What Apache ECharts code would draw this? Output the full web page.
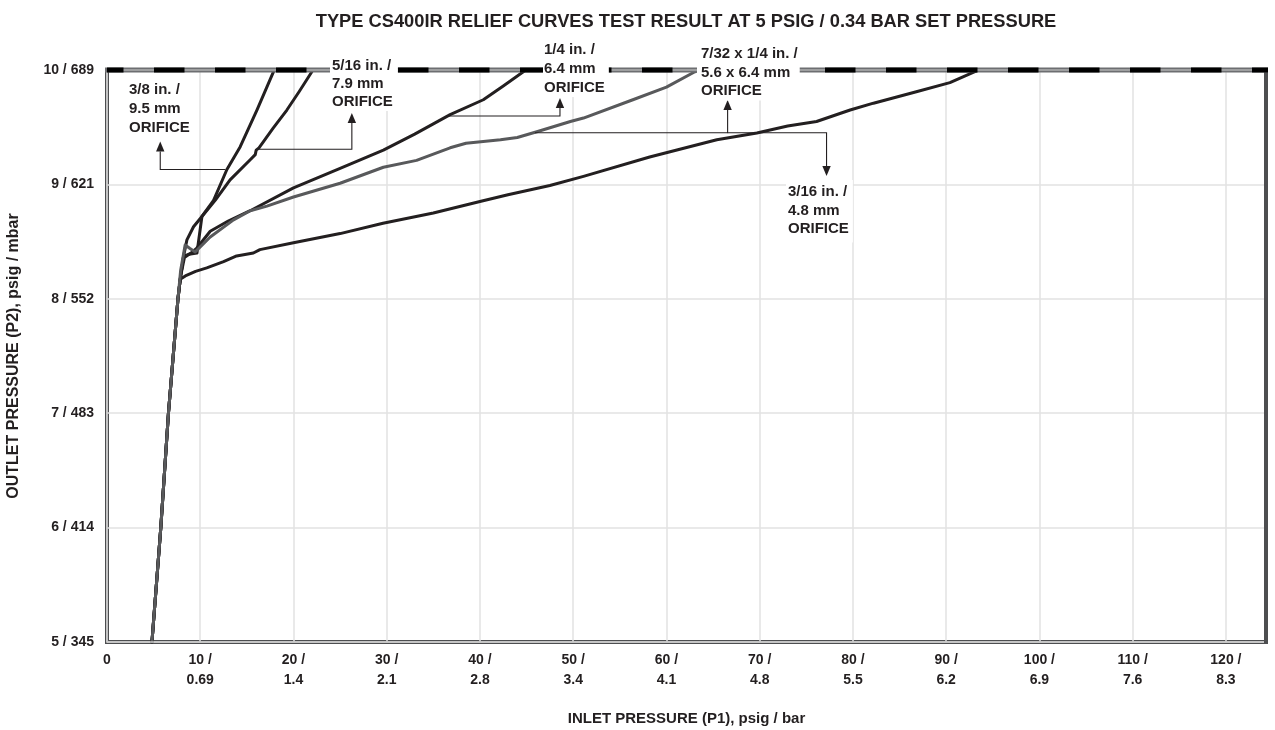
<!DOCTYPE html>
<html>
<head>
<meta charset="utf-8">
<script src="https://cdn.jsdelivr.net/npm/echarts@6/dist/echarts.min.js"></script>
<style>
html,body{margin:0;padding:0;background:#fff;}
#chart{width:1275px;height:730px;}
</style>
</head>
<body>
<div id="chart"></div>
<script>
// ---------- DATA ----------
const xTickLabels = ['0','10 /\n0.69','20 /\n1.4','30 /\n2.1','40 /\n2.8','50 /\n3.4','60 /\n4.1','70 /\n4.8','80 /\n5.5','90 /\n6.2','100 /\n6.9','110 /\n7.6','120 /\n8.3'];
const yTickLabels = ['5 / 345','6 / 414','7 / 483','8 / 552','9 / 621','10 / 689'];

const orifice38 = [[4.82,5],[5.77,6],[6.59,7],[7.61,8],[7.9,8.2],[8.21,8.37],[8.8,8.39],[9.65,8.40],[10.18,8.72],[11.43,8.86],[12.86,9.13],[14.29,9.33],[16.08,9.65],[17.86,9.985],[17.95,10]];
const orifice516 = [[4.82,5],[5.77,6],[6.59,7],[7.61,8],[7.9,8.2],[8.21,8.37],[8.57,8.515],[9.28,8.63],[10.18,8.72],[11.6,8.86],[13.2,9.04],[15.36,9.215],[15.9,9.26],[16.0,9.30],[16.3,9.32],[17.8,9.49],[19.29,9.65],[20.6,9.81],[21.97,9.985],[22.05,10]];
const orifice14 = [[4.82,5],[5.77,6],[6.59,7],[7.61,8],[7.9,8.2],[8.3,8.36],[9.0,8.40],[9.6,8.44],[11.07,8.59],[13.0,8.68],[15.36,8.77],[20.0,8.97],[25.0,9.14],[29.64,9.30],[33.0,9.44],[36.8,9.61],[40.36,9.74],[42.5,9.86],[44.65,9.985],[44.9,10]];
const orifice732 = [[4.82,5],[5.77,6],[6.59,7],[7.61,8],[7.9,8.25],[8.38,8.47],[8.9,8.44],[9.46,8.41],[11.07,8.54],[13.57,8.69],[15.36,8.77],[17.15,8.81],[20.0,8.89],[25.0,9.01],[29.64,9.15],[33.2,9.21],[36.8,9.32],[38.5,9.36],[42.2,9.39],[44.0,9.41],[46.1,9.46],[49.7,9.55],[51.1,9.58],[56.4,9.74],[60.0,9.85],[63.05,9.985],[63.6,10]];
const orifice316 = [[4.82,5],[5.77,6],[6.59,7],[7.61,8],[7.85,8.17],[8.4,8.2],[9.5,8.24],[10.7,8.27],[12.5,8.325],[13.9,8.375],[15.7,8.40],[16.4,8.43],[20.0,8.49],[25.0,8.57],[29.6,8.66],[35.0,8.75],[40.0,8.85],[43.0,8.91],[47.5,8.99],[51.1,9.07],[58.2,9.24],[65.4,9.39],[69.7,9.45],[73.0,9.51],[76.1,9.55],[79.7,9.65],[82.2,9.71],[86.8,9.81],[90.4,9.89],[93.2,9.99],[93.4,10]];

// annotation texts and leader paths (data coords; last point is arrow tip)
const labelTexts = {
  o38: '3/8 in. /\n9.5 mm\nORIFICE',
  o516: '5/16 in. /\n7.9 mm\nORIFICE',
  o14: '1/4 in. /\n6.4 mm\nORIFICE',
  o732: '7/32 x 1/4 in. /\n5.6 x 6.4 mm\nORIFICE',
  o316: '3/16 in. /\n4.8 mm\nORIFICE'
};
const leader38 = [[12.7,9.13],[5.71,9.13],[5.71,9.374]];
const leader516 = [[16.1,9.307],[26.26,9.307],[26.26,9.624]];
const leader14 = [[36.58,9.598],[48.58,9.598],[48.58,9.755]];
const leader732 = [[45.9,9.452],[66.56,9.452],[66.56,9.738]];
const leader316 = [[66.56,9.452],[77.17,9.452],[77.17,9.074]];
const setLimit = 10;

// ---------- CHART ----------
const FONT = '"Liberation Sans", Arial, Helvetica, sans-serif';
const INK = '#231f20';
const GRAY = '#58595b';
const XMAX = 124.3;

const chart = echarts.init(document.getElementById('chart'), null, {renderer:'canvas'});

function lineSeries(name, data, color, z) {
  return {
    name, type:'line', data, showSymbol:false, symbol:'none', smooth:false,
    lineStyle:{color, width:3, join:'round', cap:'round'}, z, silent:true, animation:false
  };
}

const option = {
  animation:false,
  backgroundColor:'#ffffff',
  title:{
    text:'TYPE CS400IR RELIEF CURVES TEST RESULT AT 5 PSIG / 0.34 BAR SET PRESSURE',
    left:681, top:8, textAlign:'center',
    textStyle:{fontFamily:FONT, fontWeight:'bold', fontSize:18.3, color:INK}
  },
  grid:{left:107, right:9, top:70, bottom:88, containLabel:false, outerBoundsMode:'none',
        show:true, borderColor:'#4d4e50', borderWidth:4, backgroundColor:'transparent'},
  xAxis:{
    type:'value', min:0, max:XMAX, interval:10,
    axisLine:{show:false}, axisTick:{show:false},
    splitLine:{show:true, lineStyle:{color:'#e2e2e2', width:1.5}},
    axisLabel:{
      fontFamily:FONT, fontWeight:'bold', fontSize:14, color:INK, lineHeight:20, margin:8,
      showMaxLabel:false,
      formatter:function(v){ const i=Math.round(v/10); return Math.abs(v-i*10)<1e-6 ? (xTickLabels[i]||'') : ''; }
    },
    name:'INLET PRESSURE (P1), psig / bar', nameLocation:'middle', nameGap:69,
    nameTextStyle:{fontFamily:FONT, fontWeight:'bold', fontSize:15, color:INK}
  },
  yAxis:{
    type:'value', min:5, max:10, interval:1,
    axisLine:{show:false}, axisTick:{show:false},
    splitLine:{show:true, lineStyle:{color:'#e2e2e2', width:1.5}},
    axisLabel:{
      fontFamily:FONT, fontWeight:'bold', fontSize:14, color:INK, margin:13,
      formatter:function(v){ const i=Math.round(v-5); return yTickLabels[i]||''; }
    },
    name:'OUTLET PRESSURE (P2), psig / mbar', nameLocation:'middle', nameGap:85, nameRotate:90,
    nameTextStyle:{fontFamily:FONT, fontWeight:'bold', fontSize:16, color:INK}
  },
  series:[
    lineSeries('3/16', orifice316, INK, 2),
    lineSeries('1/4', orifice14, INK, 2),
    lineSeries('5/16', orifice516, INK, 2),
    lineSeries('3/8', orifice38, INK, 2),
    lineSeries('7/32 x 1/4', orifice732, GRAY, 3)
  ]
};
chart.setOption(option);

// ---------- overlays (frame, set-limit line, leaders, labels) ----------
function px(p){ return chart.convertToPixel({gridIndex:0}, p); }
const g = [];
const p00 = px([0,5]), p0t = px([0,setLimit]), pR = px([XMAX,5]), pRt = px([XMAX,setLimit]);
// right border solid dark
g.push({type:'line', z:49, silent:true, shape:{x1:pR[0],y1:pR[1]+2,x2:pRt[0],y2:pRt[1]}, style:{stroke:'#4d4e50', lineWidth:4}});
// left and bottom double line light center
g.push({type:'line', z:50, silent:true, shape:{x1:p00[0],y1:p00[1]+1,x2:p0t[0],y2:p0t[1]}, style:{stroke:'#c8c8c8', lineWidth:1.3}});
g.push({type:'line', z:50, silent:true, shape:{x1:p00[0],y1:p00[1],x2:pR[0]-2,y2:pR[1]}, style:{stroke:'#c8c8c8', lineWidth:1.3}});
// set-limit line at top (gray band + light core + black dashes)
g.push({type:'line', z:51, silent:true, shape:{x1:p0t[0]-2,y1:p0t[1],x2:pRt[0]+2,y2:pRt[1]}, style:{stroke:'#6d6e71', lineWidth:5}});
g.push({type:'line', z:52, silent:true, shape:{x1:p0t[0],y1:p0t[1],x2:pRt[0],y2:pRt[1]}, style:{stroke:'#cfcfcf', lineWidth:1.2}});
g.push({type:'line', z:53, silent:true, shape:{x1:p0t[0],y1:p0t[1],x2:pRt[0]+2,y2:pRt[1]}, style:{stroke:'#000000', lineWidth:5, lineDash:[30.5,30.5], lineDashOffset:14}});

function leader(path){
  const pts = path.map(px);
  const n = pts.length;
  const tip = pts[n-1], prev = pts[n-2];
  const dx = tip[0]-prev[0], dy = tip[1]-prev[1];
  const len = Math.sqrt(dx*dx+dy*dy) || 1;
  const ux = dx/len, uy = dy/len;
  const L = 10, W = 4.2;
  const base = [tip[0]-ux*L, tip[1]-uy*L];
  const linePts = pts.slice(0, n-1).concat([base]);
  g.push({type:'polyline', z:60, silent:true, shape:{points:linePts}, style:{stroke:INK, lineWidth:1.1, fill:null}});
  g.push({type:'polygon', z:60, silent:true, shape:{points:[tip,[base[0]-uy*W, base[1]+ux*W],[base[0]+uy*W, base[1]-ux*W]]}, style:{fill:INK, stroke:null}});
}
[leader38, leader516, leader14, leader732, leader316].forEach(leader);

function label(text, x, y, lh, pad){
  g.push({type:'text', z:70, silent:true, x:x, y:y, style:{
    text:text, font:'bold 15px '+FONT, fill:INK, lineHeight:lh,
    align:'left', verticalAlign:'top', backgroundColor:'#ffffff', padding:pad
  }});
}
label(labelTexts.o38, 129, 80, 19, [0,2,0,0]);
label(labelTexts.o516, 330, 57, 18, [0,5,0,2]);
label(labelTexts.o14, 543, 40, 19, [0,4,0,1]);
label(labelTexts.o732, 697, 45, 18.5, [0,2,0,4]);
label(labelTexts.o316, 786, 180, 18.5, [3,4,4,2]);

chart.setOption({graphic:{elements:g}});
</script>
</body>
</html>
